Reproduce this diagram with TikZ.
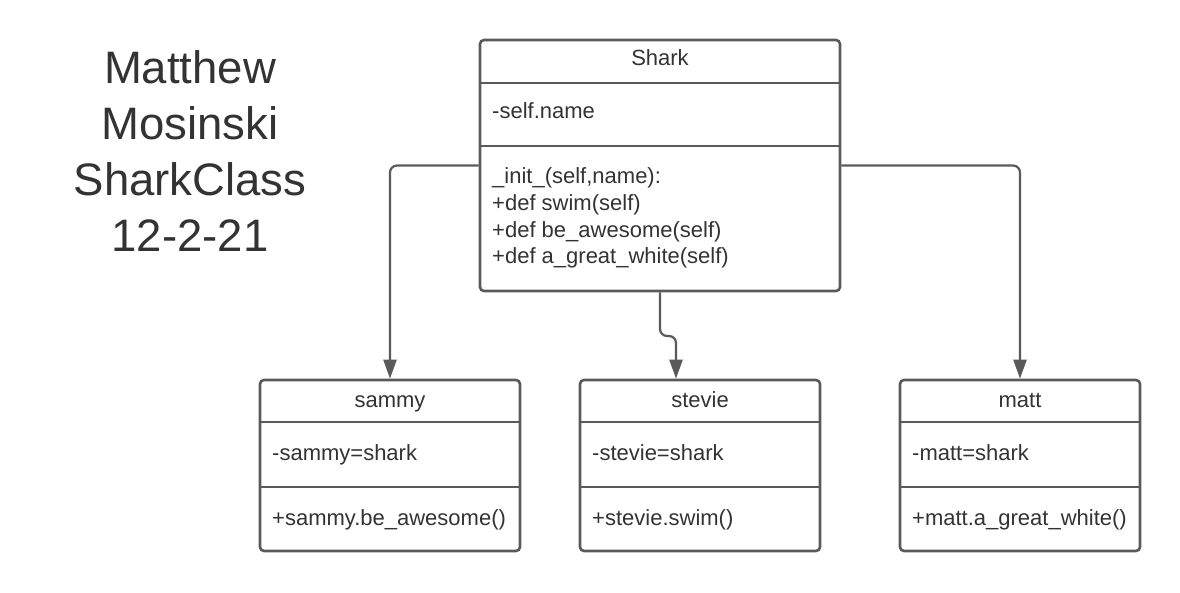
\documentclass[tikz,border=0pt]{standalone}
\usepackage{fontspec}
\setmainfont{Liberation Sans}
\usetikzlibrary{arrows.meta}
\definecolor{umlgray}{HTML}{5A5A5A}
\definecolor{txtgray}{HTML}{333333}
\tikzset{
    classbox/.style={draw=umlgray,line width=2.6pt,rounded corners=4pt,inner sep=0pt},
    divider/.style={draw=umlgray,line width=2.6pt},
    member/.style={anchor=base west,text=txtgray,align=left,inner sep=0pt,font=\fontsize{22}{26.7}\selectfont},
    classname/.style={anchor=base,text=txtgray,inner sep=0pt,font=\fontsize{22}{26}\selectfont},
    inherit/.style={draw=umlgray,line width=2.2pt,rounded corners=7pt,-{Triangle[length=19pt,width=13pt]}}
}
\begin{document}
\begin{tikzpicture}[x=1pt,y=-1pt]
    \useasboundingbox (0,0) rectangle (1180,593);

    % title
    \node[text=txtgray,align=center,inner sep=0pt,font=\fontsize{45.5}{56}\selectfont] (title) at (190,151) {Matthew\\Mosinski\\SharkClass\\12-2-21};

    % parent class
    \node[classbox,minimum width=360pt,minimum height=251pt] (shark) at (660,165.5) {};
    \draw[divider] (shark.west |- 0,83) -- (shark.east |- 0,83);
    \draw[divider] (shark.west |- 0,146) -- (shark.east |- 0,146);
    \node[classname] (sharkname) at (660,66) {Shark};
    \node[member] (sharkattr) at (492,119) {-self.name};
    \node[member] (sharkops) at (492,264) {\_init\_(self,name):\\+def swim(self)\\+def be\_awesome(self)\\+def a\_great\_white(self)};

    % objects
    \node[classbox,minimum width=260pt,minimum height=171pt] (sammy) at (390,465.5) {};
    \node[classbox,minimum width=240pt,minimum height=171pt] (stevie) at (700,465.5) {};
    \node[classbox,minimum width=240pt,minimum height=171pt] (matt) at (1020,465.5) {};
    \foreach \obj in {sammy,stevie,matt}{
        \draw[divider] (\obj.west |- 0,422) -- (\obj.east |- 0,422);
        \draw[divider] (\obj.west |- 0,487) -- (\obj.east |- 0,487);
    }
    \node[classname] (sammyname) at (390,407) {sammy};
    \node[member] (sammyattr) at (272,460) {-sammy=shark};
    \node[member] (sammyops) at (272,525) {+sammy.be\_awesome()};

    \node[classname] (steviename) at (700,407) {stevie};
    \node[member] (stevieattr) at (592,460) {-stevie=shark};
    \node[member] (stevieops) at (592,525) {+stevie.swim()};

    \node[classname] (mattname) at (1020,407) {matt};
    \node[member] (mattattr) at (912,460) {-matt=shark};
    \node[member] (mattops) at (912,525) {+matt.a\_great\_white()};

    % connectors
    \coordinate (jogtop) at (660,336);
    \coordinate (jogbot) at (676,336);
    \draw[inherit] (shark.west) -| (sammy.north);
    \draw[inherit] (shark.south) -- (jogtop) -- (jogbot) -- (jogbot |- stevie.north);
    \draw[inherit] (shark.east) -| (matt.north);
\end{tikzpicture}
\end{document}
